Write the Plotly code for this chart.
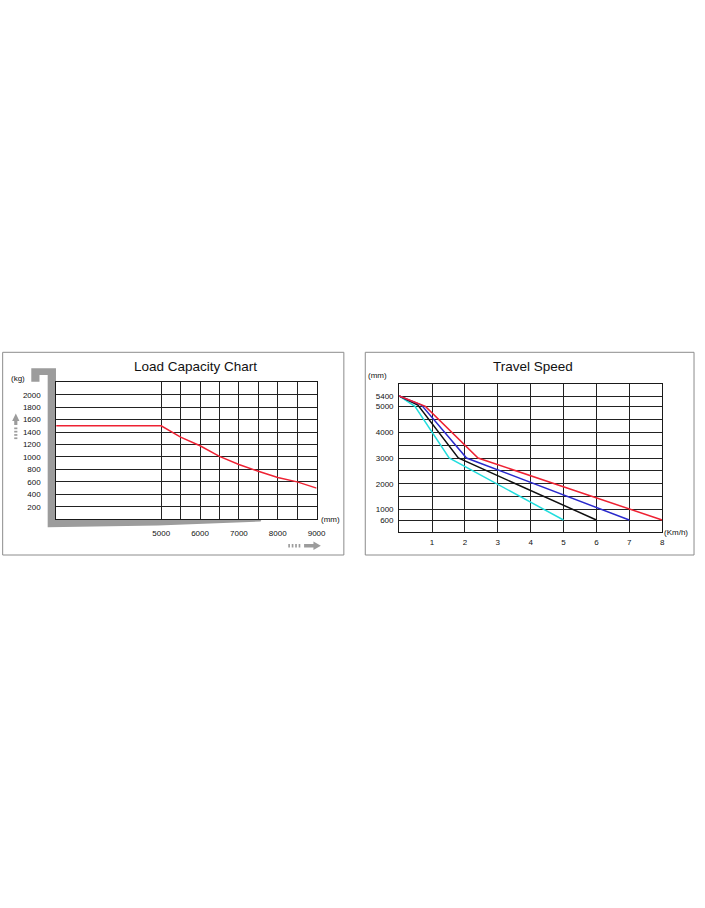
import plotly.graph_objects as go

W, H = 705, 908
FONT = "Arial, Liberation Sans, sans-serif"

# ---------------- Load Capacity Chart data ----------------
load_center_mm = [0, 5000, 5500, 6000, 6500, 7000, 7500, 8000, 8500, 9000]
capacity_kg = [1500, 1500, 1320, 1180, 1010, 880, 770, 670, 600, 500]
cap_x_ticks = [5000, 5500, 6000, 6500, 7000, 7500, 8000, 8500, 9000]
cap_x_labels = ["5000", "", "6000", "", "7000", "", "8000", "", "9000"]
cap_y_ticks = [200, 400, 600, 800, 1000, 1200, 1400, 1600, 1800, 2000]
cap_y_labels = ["200", "400", "600", "800", "1000", "1200", "1400", "1600", "1800", "2000"]

# ---------------- Travel Speed data ----------------
speed_red = [0, 0.8, 2.4, 8]
height_red = [5400, 5000, 3000, 600]
speed_blue = [0, 0.68, 2.05, 7]
height_blue = [5400, 5050, 3000, 600]
speed_black = [0, 0.57, 1.8, 6]
height_black = [5400, 5050, 3000, 600]
speed_cyan = [0, 0.48, 1.52, 5]
height_cyan = [5400, 5000, 3000, 600]
ts_y_ticks = [600, 1000, 1500, 2000, 2500, 3000, 3500, 4000, 4500, 5000, 5400]
ts_y_labels = ["600", "1000", "", "2000", "", "3000", "", "4000", "", "5000", "5400"]
ts_x_ticks = [1, 2, 3, 4, 5, 6, 7, 8]
ts_x_labels = ["1", "2", "3", "4", "5", "6", "7", "8"]


def fx(x):
    return x / W


def fy(y):
    return 1 - y / H


fig = go.Figure()

fig.add_trace(go.Scatter(x=load_center_mm, y=capacity_kg, mode="lines",
                         line=dict(color="#ee2233", width=1.5),
                         xaxis="x", yaxis="y", showlegend=False, hoverinfo="skip"))

for sx, hy, col in [(speed_cyan, height_cyan, "#22dddd"),
                    (speed_black, height_black, "#111111"),
                    (speed_blue, height_blue, "#2a2acc"),
                    (speed_red, height_red, "#ee2233")]:
    fig.add_trace(go.Scatter(x=sx, y=hy, mode="lines",
                             line=dict(color=col, width=1.5),
                             xaxis="x2", yaxis="y2", showlegend=False, hoverinfo="skip"))

axis_common = dict(showline=True, mirror=True, linecolor="#1a1a1a", linewidth=1,
                   showgrid=True, gridcolor="#222222", gridwidth=1, zeroline=False,
                   ticks="", tickfont=dict(family=FONT, size=8, color="#111111"),
                   fixedrange=True)

fig.update_layout(
    width=W, height=H,
    margin=dict(l=0, r=0, t=0, b=0),
    paper_bgcolor="white", plot_bgcolor="white",
    xaxis=dict(domain=[fx(57), fx(320.7)], range=[2300, 9000],
               tickmode="array", tickvals=cap_x_ticks, ticktext=cap_x_labels,
               ticklabelstandoff=6, anchor="y", **axis_common),
    yaxis=dict(domain=[fy(519.2), fy(382.3)], range=[0, 2200],
               tickmode="array", tickvals=cap_y_ticks, ticktext=cap_y_labels,
               ticklabelstandoff=13, anchor="x", **axis_common),
    xaxis2=dict(domain=[fx(404.3), fx(670.7)], range=[0, 8],
                tickmode="array", tickvals=ts_x_ticks, ticktext=ts_x_labels,
                ticklabelstandoff=2, anchor="y2", **axis_common),
    yaxis2=dict(domain=[fy(532.3), fy(384)], range=[124, 5865],
                tickmode="array", tickvals=ts_y_ticks, ticktext=ts_y_labels,
                ticklabelstandoff=3, anchor="x2", **axis_common),
)

shapes = []
# panel frames
for x0, x1 in [(2.7, 348.3), (370, 703)]:
    shapes.append(dict(type="rect", xref="paper", yref="paper",
                       x0=fx(x0), x1=fx(x1), y0=fy(555), y1=fy(352.3),
                       line=dict(color="#8c8c8c", width=1), fillcolor="rgba(0,0,0,0)"))

GRAY = "#9c9c9c"


def path(points):
    return "M " + " L ".join(f"{fx(a):.5f},{fy(b):.5f}" for a, b in points) + " Z"


# fork (L-shaped) outline
fork = [(31.7, 368.3), (56.7, 368.3), (56.7, 519.2), (265, 519.2), (264, 521.5),
        (160, 525.5), (48.3, 527.3), (48.3, 375), (40, 375), (40, 381.7), (31.7, 381.7)]
shapes.append(dict(type="path", xref="paper", yref="paper", path=path(fork),
                   fillcolor=GRAY, line=dict(width=0), layer="below"))

# up arrow
shapes.append(dict(type="path", xref="paper", yref="paper",
                   path=path([(16, 413.5), (19.7, 421), (17.6, 421), (17.6, 425),
                              (14.4, 425), (14.4, 421), (12.3, 421)]),
                   fillcolor=GRAY, line=dict(width=0)))
for yy in [427.5, 430.8, 434.1, 437.4]:
    shapes.append(dict(type="rect", xref="paper", yref="paper",
                       x0=fx(14.4), x1=fx(17.6), y0=fy(yy + 1.7), y1=fy(yy),
                       fillcolor=GRAY, line=dict(width=0)))

# right arrow
shapes.append(dict(type="path", xref="paper", yref="paper",
                   path=path([(325, 545.7), (317.5, 541.5), (317.5, 544), (308, 544),
                              (308, 547.5), (317.5, 547.5), (317.5, 550)]),
                   fillcolor=GRAY, line=dict(width=0)))
for xx in [292, 295.5, 299, 302.5]:
    shapes.append(dict(type="rect", xref="paper", yref="paper",
                       x0=fx(xx), x1=fx(xx + 1.7), y0=fy(547.5), y1=fy(544),
                       fillcolor=GRAY, line=dict(width=0)))

fig.update_layout(shapes=shapes)

annots = [
    dict(text="Load Capacity Chart", x=fx(197.7), y=fy(366.7), size=13.5),
    dict(text="Travel Speed", x=fx(540), y=fy(366.7), size=13.5),
    dict(text="(kg)", x=fx(18.3), y=fy(378.3), size=8),
    dict(text="(mm)", x=fx(335), y=fy(519.5), size=8),
    dict(text="(mm)", x=fx(382), y=fy(375.7), size=8),
    dict(text="(Km/h)", x=fx(685), y=fy(532.3), size=8),
]
for a in annots:
    fig.add_annotation(text=a["text"], x=a["x"], y=a["y"], xref="paper", yref="paper",
                       xanchor="center", yanchor="middle", showarrow=False,
                       font=dict(family=FONT, size=a["size"], color="#111111"))

fig.write_html("out.html", config={"displayModeBar": False},
               post_script="document.body.style.margin='0';document.body.style.overflow='hidden';")
